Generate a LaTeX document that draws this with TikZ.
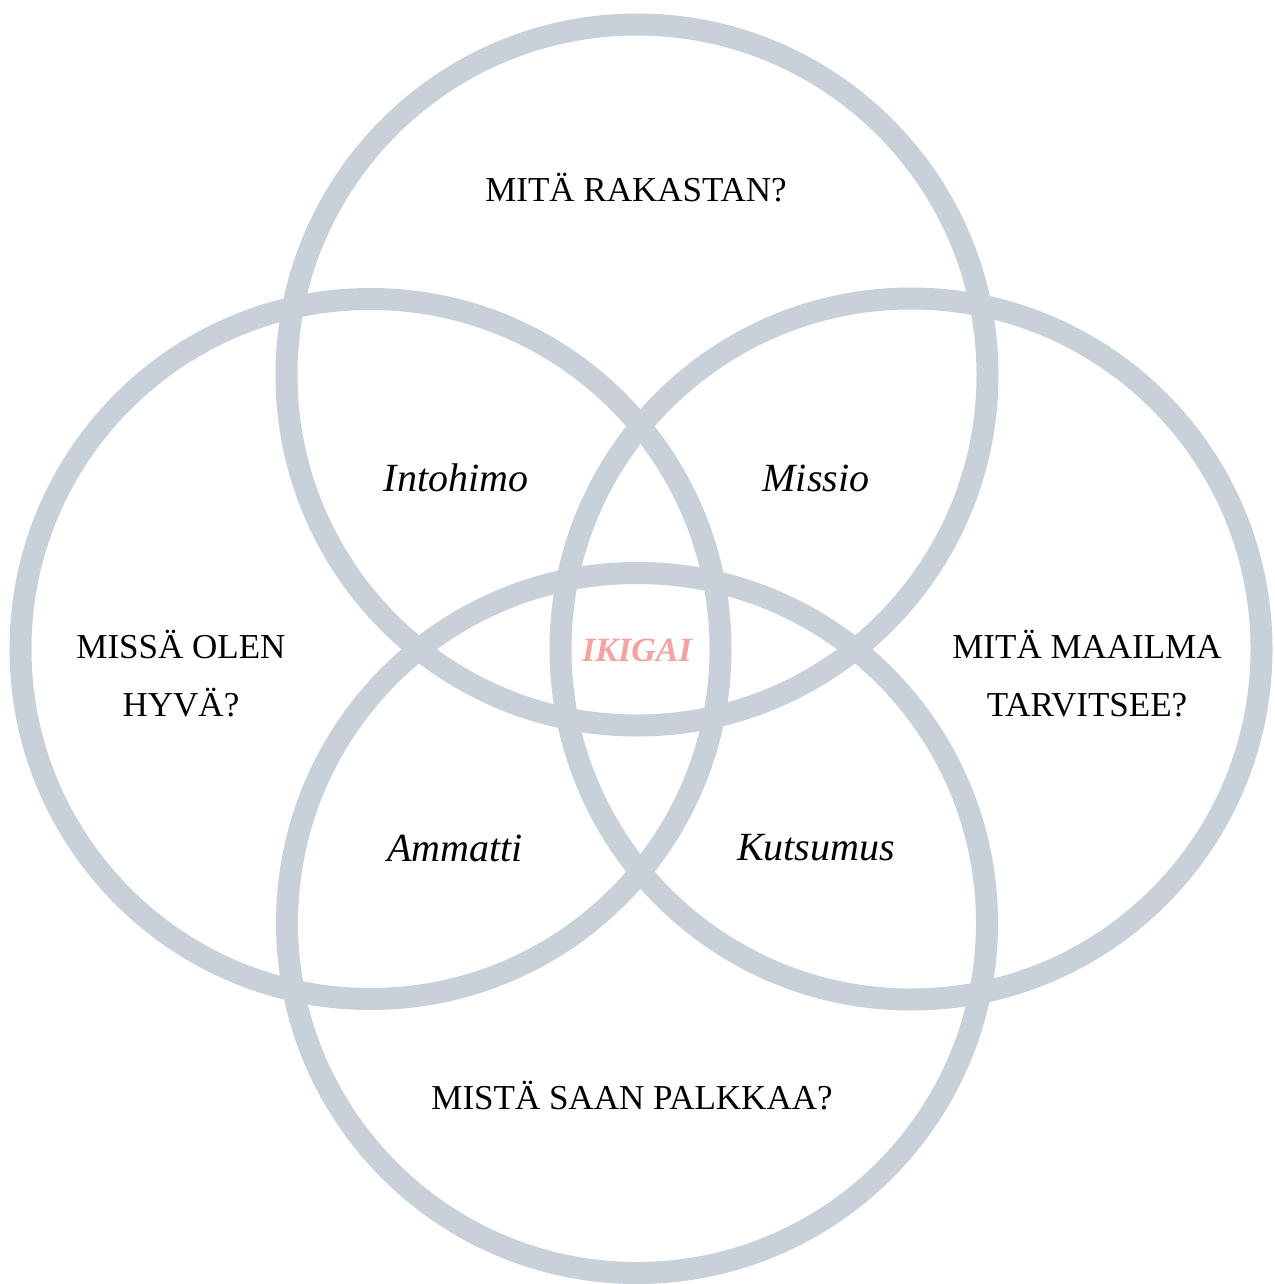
\documentclass[tikz,border=0pt]{standalone}
\usepackage{fontspec}
\setmainfont{Liberation Serif}
\definecolor{ring}{HTML}{C8D1D9}
\definecolor{ikipink}{HTML}{F7A1A1}
\begin{document}
\begin{tikzpicture}[x=1pt,y=-1pt,
  ringline/.style={draw=ring,line width=22pt},
  question/.style={font=\fontsize{35}{58}\selectfont,align=center,text=black,inner sep=0pt},
  overlap/.style={font=\fontsize{40}{48}\selectfont\itshape,text=black,inner sep=0pt},
  centre/.style={font=\fontsize{34}{40}\selectfont\bfseries\itshape,text=ikipink,inner sep=0pt}]
\useasboundingbox[fill=white] (0,0) rectangle (1274,1284);
\coordinate (ctop) at (637,375);
\coordinate (cleft) at (370.5,649);
\coordinate (cright) at (911,649);
\coordinate (cbottom) at (637,923);
\draw[ringline] (ctop) circle[radius=350.5];
\draw[ringline] (cleft) circle[radius=350];
\draw[ringline] (cright) circle[radius=350.5];
\draw[ringline] (cbottom) circle[radius=350];
\node[question] (love) at (636,188) {MITÄ RAKASTAN?};
\node[question] (good) at (181,674) {MISSÄ OLEN\\HYVÄ?};
\node[question] (world) at (1087,674) {MITÄ MAAILMA\\TARVITSEE?};
\node[question] (paid) at (632,1096) {MISTÄ SAAN PALKKAA?};
\node[overlap] (passion) at (456,478) {Intohimo};
\node[overlap] (mission) at (816,478) {Missio};
\node[overlap] (profession) at (455,848) {Ammatti};
\node[overlap] (vocation) at (816,848) {Kutsumus};
\node[centre] (ikigai) at (637,650) {IKIGAI};
\end{tikzpicture}
\end{document}
